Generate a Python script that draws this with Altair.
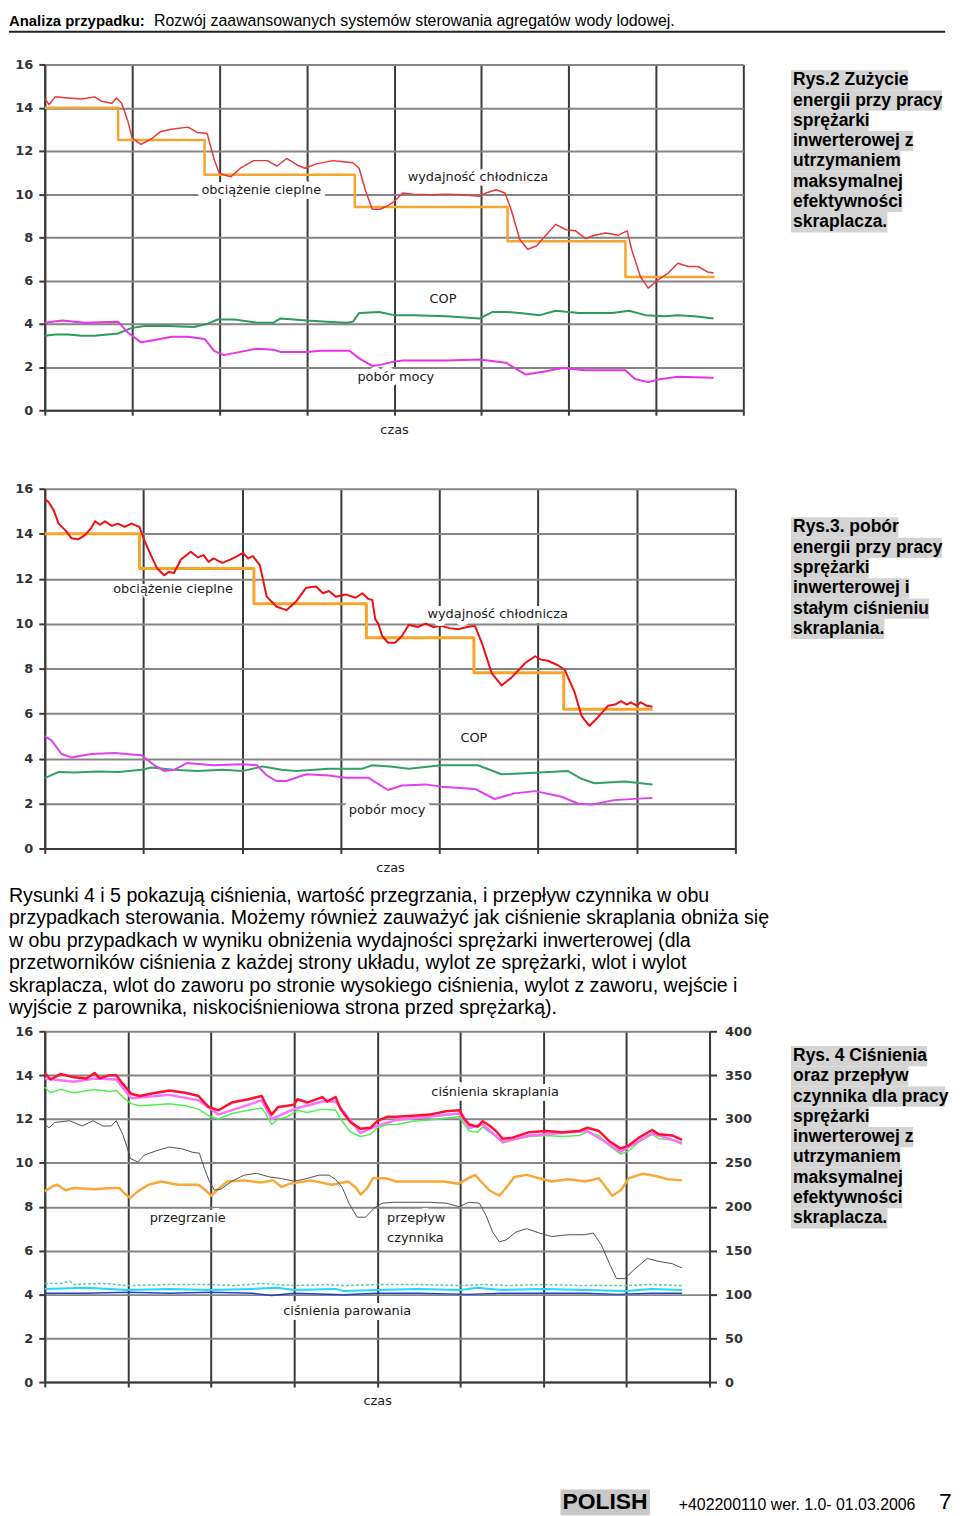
import altair as alt
import pandas as pd

# ---------------- data ----------------
# Rys.2
c1_heat = [(0, 14.0), (0.84, 12.5), (1.83, 10.9), (3.55, 9.4), (5.30, 7.82), (6.65, 6.16), (7.67, 6.16)]
c1_cool = [(0, 14.4), (0.05, 14.15), (0.12, 14.5), (0.27, 14.45), (0.42, 14.4), (0.57, 14.5), (0.65, 14.3),
           (0.77, 14.2), (0.82, 14.45), (0.88, 14.2), (0.95, 13.4), (1.0, 12.6), (1.1, 12.3), (1.22, 12.55),
           (1.33, 12.9), (1.45, 13.0), (1.64, 13.1), (1.75, 12.85), (1.86, 12.8), (1.94, 11.6), (2.0, 10.95),
           (2.13, 10.8), (2.24, 11.2), (2.39, 11.55), (2.55, 11.55), (2.66, 11.3), (2.77, 11.65), (2.89, 11.35),
           (2.98, 11.2), (3.11, 11.4), (3.3, 11.55), (3.42, 11.5), (3.53, 11.45), (3.6, 11.2), (3.67, 10.2),
           (3.75, 9.3), (3.84, 9.3), (3.92, 9.45), (4.0, 9.65), (4.1, 10.05), (4.22, 10.0), (4.41, 9.97),
           (4.6, 10.0), (4.79, 9.97), (4.98, 9.9), (5.05, 10.05), (5.17, 10.2), (5.27, 10.05), (5.34, 9.3),
           (5.44, 7.9), (5.53, 7.45), (5.63, 7.6), (5.74, 8.1), (5.85, 8.6), (5.97, 8.35), (6.08, 8.3),
           (6.19, 7.95), (6.3, 8.1), (6.42, 8.2), (6.57, 8.1), (6.67, 8.3), (6.72, 7.45), (6.82, 6.2),
           (6.91, 5.65), (7.03, 6.05), (7.14, 6.35), (7.25, 6.8), (7.37, 6.65), (7.48, 6.65), (7.59, 6.4),
           (7.66, 6.35)]
c1_cop = [(0, 3.45), (0.12, 3.5), (0.27, 3.5), (0.42, 3.45), (0.57, 3.45), (0.84, 3.55), (0.99, 3.8),
          (1.14, 3.9), (1.41, 3.9), (1.71, 3.85), (1.86, 4.0), (1.98, 4.2), (2.17, 4.2), (2.43, 4.05),
          (2.62, 4.05), (2.7, 4.25), (2.85, 4.2), (3.0, 4.15), (3.23, 4.1), (3.46, 4.05), (3.53, 4.1),
          (3.6, 4.5), (3.83, 4.55), (4.0, 4.4), (4.22, 4.4), (4.6, 4.35), (4.98, 4.25), (5.13, 4.55),
          (5.28, 4.55), (5.44, 4.5), (5.67, 4.4), (5.85, 4.6), (6.12, 4.5), (6.5, 4.5), (6.69, 4.6),
          (6.88, 4.4), (7.1, 4.35), (7.25, 4.4), (7.44, 4.35), (7.66, 4.25)]
c1_power = [(0, 4.05), (0.2, 4.15), (0.46, 4.05), (0.84, 4.1), (0.95, 3.6), (1.1, 3.15), (1.26, 3.25),
            (1.45, 3.4), (1.64, 3.4), (1.83, 3.3), (1.94, 2.75), (2.05, 2.55), (2.24, 2.7), (2.43, 2.85),
            (2.62, 2.8), (2.7, 2.7), (3.0, 2.7), (3.16, 2.75), (3.49, 2.75), (3.6, 2.4), (3.75, 2.05),
            (3.84, 2.1), (4.0, 2.25), (4.1, 2.3), (4.6, 2.3), (4.98, 2.35), (5.28, 2.2), (5.51, 1.65),
            (5.74, 1.8), (5.93, 1.95), (6.19, 1.85), (6.65, 1.85), (6.76, 1.45), (6.91, 1.3), (7.06, 1.45),
            (7.25, 1.55), (7.66, 1.5)]
c1_labels = [("obciążenie cieplne", 2.48, 10.2), ("wydajność chłodnicza", 4.96, 10.8),
             ("COP", 4.56, 5.15), ("pobór mocy", 4.02, 1.56)]

# Rys.3
c2_heat = [(0, 14.0), (0.96, 12.45), (2.12, 10.88), (3.26, 9.37), (4.35, 7.82), (5.26, 6.19), (6.16, 6.19)]
c2_cool = [(0, 15.55), (0.04, 15.4), (0.09, 15.05), (0.14, 14.45), (0.21, 14.15), (0.27, 13.8), (0.34, 13.75),
           (0.41, 13.95), (0.47, 14.25), (0.51, 14.55), (0.56, 14.4), (0.61, 14.55), (0.68, 14.35),
           (0.74, 14.45), (0.81, 14.3), (0.88, 14.45), (0.96, 14.3), (1.01, 13.7), (1.08, 13.0),
           (1.14, 12.45), (1.21, 12.15), (1.26, 12.3), (1.31, 12.25), (1.38, 12.85), (1.48, 13.2),
           (1.55, 12.95), (1.61, 13.05), (1.66, 12.75), (1.71, 12.9), (1.8, 12.7), (1.88, 12.85),
           (1.95, 13.0), (2.01, 13.15), (2.06, 12.9), (2.11, 13.0), (2.18, 12.6), (2.25, 11.2),
           (2.35, 10.75), (2.45, 10.6), (2.55, 11.0), (2.65, 11.6), (2.75, 11.65), (2.82, 11.35),
           (2.88, 11.45), (2.95, 11.2), (3.05, 11.3), (3.15, 11.15), (3.22, 11.35), (3.28, 11.1),
           (3.32, 11.05), (3.35, 10.2), (3.38, 10.0), (3.42, 9.45), (3.48, 9.15), (3.55, 9.15),
           (3.62, 9.45), (3.69, 9.95), (3.78, 9.85), (3.86, 10.0), (3.94, 9.85), (4.02, 9.9), (4.1, 9.8),
           (4.19, 9.75), (4.28, 9.85), (4.36, 9.9), (4.43, 9.15), (4.53, 7.8), (4.63, 7.25), (4.73, 7.6),
           (4.87, 8.25), (4.97, 8.55), (5.03, 8.4), (5.1, 8.35), (5.2, 8.15), (5.27, 7.95), (5.37, 6.95),
           (5.44, 5.9), (5.52, 5.45), (5.61, 5.85), (5.71, 6.35), (5.78, 6.4), (5.84, 6.55), (5.9, 6.4),
           (5.94, 6.5), (6.0, 6.35), (6.04, 6.5), (6.1, 6.35), (6.16, 6.3)]
c2_cop = [(0, 3.13), (0.14, 3.4), (0.3, 3.38), (0.54, 3.42), (0.75, 3.4), (0.98, 3.5), (1.08, 3.6),
          (1.3, 3.5), (1.55, 3.45), (1.8, 3.5), (2.01, 3.45), (2.21, 3.65), (2.4, 3.5), (2.55, 3.45),
          (2.88, 3.55), (3.22, 3.55), (3.32, 3.7), (3.5, 3.65), (3.69, 3.55), (4.02, 3.7), (4.39, 3.7),
          (4.63, 3.3), (4.87, 3.35), (5.3, 3.45), (5.44, 3.1), (5.57, 2.9), (5.88, 2.98), (6.16, 2.85)]
c2_power = [(0, 5.0), (0.07, 4.8), (0.17, 4.2), (0.27, 4.05), (0.47, 4.2), (0.71, 4.25), (0.98, 4.15),
            (1.11, 3.7), (1.21, 3.45), (1.31, 3.5), (1.44, 3.8), (1.71, 3.7), (2.01, 3.75), (2.15, 3.7),
            (2.25, 3.25), (2.35, 3.0), (2.45, 3.0), (2.65, 3.3), (2.88, 3.25), (3.05, 3.15), (3.28, 3.15),
            (3.35, 2.95), (3.48, 2.6), (3.62, 2.8), (3.86, 2.85), (4.02, 2.75), (4.36, 2.65), (4.56, 2.2),
            (4.76, 2.45), (4.97, 2.55), (5.24, 2.3), (5.4, 2.0), (5.54, 1.95), (5.77, 2.15), (6.16, 2.25)]
c2_labels = [("obciążenie cieplne", 1.30, 11.53), ("wydajność chłodnicza", 4.59, 10.43),
             ("COP", 4.35, 4.9), ("pobór mocy", 3.47, 1.72)]

# Rys. 4
c3_cond_red = [(0, 14.1), (0.07, 13.8), (0.19, 14.05), (0.35, 13.9), (0.5, 13.85), (0.6, 14.1), (0.66, 13.85),
               (0.78, 14.0), (0.86, 14.0), (0.94, 13.6), (1.04, 13.15), (1.14, 13.05), (1.34, 13.2),
               (1.5, 13.3), (1.69, 13.2), (1.85, 13.05), (1.97, 12.55), (2.09, 12.4), (2.25, 12.75),
               (2.45, 12.9), (2.61, 13.05), (2.65, 12.75), (2.73, 12.2), (2.81, 12.55), (2.92, 12.6),
               (3.0, 12.65), (3.04, 12.9), (3.16, 12.75), (3.34, 13.0), (3.4, 12.8), (3.5, 13.0),
               (3.56, 12.45), (3.68, 11.85), (3.8, 11.55), (3.92, 11.6), (4.0, 11.9), (4.12, 12.1),
               (4.23, 12.1), (4.43, 12.15), (4.63, 12.2), (4.83, 12.35), (4.99, 12.4), (5.05, 12.0),
               (5.11, 11.75), (5.21, 11.65), (5.27, 11.9), (5.35, 11.7), (5.43, 11.45), (5.51, 11.1),
               (5.63, 11.15), (5.83, 11.4), (6.03, 11.45), (6.23, 11.4), (6.43, 11.45), (6.53, 11.6),
               (6.67, 11.45), (6.79, 11.0), (6.93, 10.65), (7.03, 10.8), (7.15, 11.15), (7.31, 11.5),
               (7.39, 11.3), (7.55, 11.25), (7.67, 11.05)]
c3_cond_pink = [(0, 13.85), (0.35, 13.7), (0.6, 13.85), (0.86, 13.8), (1.04, 12.95), (1.5, 13.1),
                (1.85, 12.85), (2.09, 12.2), (2.61, 12.85), (2.73, 12.0), (3.0, 12.45), (3.34, 12.8),
                (3.5, 12.8), (3.8, 11.35), (4.0, 11.7), (4.23, 11.95), (4.99, 12.25), (5.11, 11.6),
                (5.27, 11.75), (5.51, 10.95), (5.83, 11.25), (6.53, 11.45), (6.79, 10.85), (6.93, 10.5),
                (7.31, 11.35), (7.67, 10.9)]
c3_cond_green = [(0, 13.45), (0.07, 13.2), (0.19, 13.35), (0.35, 13.2), (0.6, 13.35), (0.78, 13.25),
                 (0.86, 13.3), (0.94, 13.0), (1.04, 12.7), (1.14, 12.6), (1.34, 12.65), (1.5, 12.7),
                 (1.69, 12.6), (1.85, 12.45), (1.97, 12.15), (2.09, 12.0), (2.25, 12.25), (2.45, 12.4),
                 (2.61, 12.5), (2.65, 12.3), (2.73, 11.75), (2.81, 12.0), (2.92, 12.1), (3.04, 12.4),
                 (3.16, 12.3), (3.34, 12.45), (3.5, 12.4), (3.56, 12.0), (3.68, 11.4), (3.8, 11.2),
                 (3.92, 11.3), (4.0, 11.6), (4.12, 11.75), (4.23, 11.75), (4.43, 11.9), (4.63, 11.95),
                 (4.83, 12.05), (4.99, 12.1), (5.05, 11.75), (5.11, 11.45), (5.21, 11.4), (5.27, 11.65),
                 (5.35, 11.4), (5.43, 11.25), (5.51, 10.9), (5.63, 11.05), (5.83, 11.2), (6.03, 11.25),
                 (6.23, 11.2), (6.43, 11.25), (6.53, 11.4), (6.67, 11.25), (6.79, 10.8), (6.93, 10.4),
                 (7.03, 10.55), (7.15, 10.95), (7.31, 11.3), (7.39, 11.1), (7.55, 11.05), (7.67, 10.85)]
c3_superheat = [(0, 8.7), (0.08, 8.9), (0.15, 9.0), (0.25, 8.75), (0.35, 8.85), (0.6, 8.8), (0.8, 8.85),
                (0.9, 8.85), (0.96, 8.6), (1.03, 8.4), (1.12, 8.7), (1.25, 9.0), (1.4, 9.15), (1.6, 9.0),
                (1.85, 9.0), (1.95, 8.7), (2.0, 8.5), (2.1, 8.85), (2.2, 9.15), (2.4, 9.2), (2.6, 9.1),
                (2.75, 9.2), (2.85, 8.9), (2.95, 9.05), (3.2, 9.2), (3.45, 9.0), (3.65, 9.15), (3.75, 8.85),
                (3.8, 8.55), (3.88, 8.85), (3.95, 9.3), (4.1, 9.3), (4.23, 9.15), (4.5, 9.15), (4.8, 9.15),
                (4.98, 9.05), (5.1, 9.3), (5.18, 9.45), (5.25, 9.15), (5.35, 8.75), (5.47, 8.5), (5.55, 8.85),
                (5.65, 9.35), (5.8, 9.45), (5.95, 9.3), (6.1, 9.15), (6.3, 9.25), (6.5, 9.15), (6.67, 9.3),
                (6.75, 8.9), (6.83, 8.5), (6.93, 8.75), (7.03, 9.3), (7.2, 9.5), (7.35, 9.4), (7.5, 9.25),
                (7.67, 9.2)]
# flow on the right-hand axis (0-400)
c3_flow = [(0, 294), (0.05, 290), (0.12, 296), (0.3, 298), (0.45, 292), (0.58, 298), (0.7, 292), (0.8, 292),
           (0.86, 298), (0.94, 282), (0.99, 268), (1.03, 255), (1.12, 251), (1.2, 259), (1.35, 264),
           (1.5, 268), (1.65, 266), (1.78, 262), (1.86, 261), (1.92, 244), (1.98, 229), (2.04, 219),
           (2.12, 220), (2.25, 229), (2.4, 236), (2.55, 238), (2.7, 234), (2.85, 232), (3.0, 229),
           (3.15, 232), (3.3, 236), (3.42, 236), (3.5, 231), (3.58, 222), (3.66, 204), (3.76, 188),
           (3.86, 188), (3.96, 198), (4.06, 204), (4.2, 205), (4.43, 205), (4.63, 205), (4.83, 204),
           (4.99, 200), (5.1, 205), (5.23, 204), (5.31, 190), (5.39, 171), (5.47, 160), (5.55, 162),
           (5.67, 171), (5.8, 175), (5.95, 170), (6.1, 166), (6.3, 168), (6.5, 168), (6.6, 170),
           (6.7, 156), (6.8, 134), (6.88, 118), (6.98, 118), (7.1, 129), (7.25, 141), (7.37, 138),
           (7.55, 135), (7.67, 130)]
c3_evap_teal = [(0, 4.5), (0.2, 4.5), (0.3, 4.6), (0.35, 4.45), (0.7, 4.5), (1.0, 4.4), (1.5, 4.45),
                (2.0, 4.45), (2.3, 4.4), (2.6, 4.5), (3.0, 4.4), (3.4, 4.45), (3.6, 4.4), (4.0, 4.45),
                (4.5, 4.45), (5.0, 4.4), (5.3, 4.45), (5.6, 4.4), (6.0, 4.45), (6.5, 4.4), (7.0, 4.4),
                (7.3, 4.45), (7.67, 4.4)]
c3_evap_cyan = [(0, 4.25), (0.5, 4.3), (1.0, 4.2), (1.5, 4.25), (2.0, 4.2), (2.5, 4.25), (2.8, 4.3),
                (3.0, 4.2), (3.5, 4.25), (3.6, 4.15), (4.0, 4.2), (4.5, 4.25), (5.0, 4.2), (5.2, 4.3),
                (5.5, 4.2), (6.0, 4.25), (6.5, 4.2), (7.0, 4.15), (7.3, 4.25), (7.67, 4.2)]
c3_evap_blue = [(0, 4.05), (0.5, 4.05), (1.0, 4.1), (1.5, 4.05), (2.0, 4.1), (2.5, 4.05), (2.73, 3.95),
                (3.0, 4.05), (3.6, 3.98), (4.0, 4.05), (4.5, 4.05), (5.1, 4.0), (5.5, 4.05), (6.0, 4.05),
                (6.5, 4.05), (6.9, 4.0), (7.3, 4.05), (7.67, 4.05)]
c3_labels = [("ciśnienia skraplania", 5.42, 13.24), ("przegrzanie", 1.72, 7.48), ("przepływ", 4.47, 7.48),
             ("czynnika", 4.46, 6.57), ("ciśnienia parowania", 3.64, 3.22)]

# ---------------- texts ----------------
header_bold = "Analiza przypadku:"
header_rest = "Rozwój zaawansowanych systemów sterowania agregatów wody lodowej."
cap1_lines = ["Rys.2 Zużycie", "energii przy pracy", "sprężarki", "inwerterowej z", "utrzymaniem",
              "maksymalnej", "efektywności", "skraplacza."]
cap2_lines = ["Rys.3. pobór", "energii przy pracy", "sprężarki", "inwerterowej i", "stałym ciśnieniu",
              "skraplania."]
cap3_lines = ["Rys. 4 Ciśnienia", "oraz przepływ", "czynnika dla pracy", "sprężarki", "inwerterowej z",
              "utrzymaniem", "maksymalnej", "efektywności", "skraplacza."]
para_lines = ["Rysunki 4 i 5 pokazują ciśnienia, wartość przegrzania, i przepływ czynnika w obu",
              "przypadkach sterowania. Możemy również zauważyć jak ciśnienie skraplania obniża się",
              "w obu przypadkach w wyniku obniżenia wydajności sprężarki inwerterowej (dla",
              "przetworników ciśnienia z każdej strony układu, wylot ze sprężarki, wlot i wylot",
              "skraplacza, wlot do zaworu po stronie wysokiego ciśnienia, wylot z zaworu, wejście i",
              "wyjście z parownika, niskociśnieniowa strona przed sprężarką)."]
footer_lang = "POLISH"
footer_doc = "+402200110 wer. 1.0- 01.03.2006"
footer_page = "7"

# ---------------- layout / style (pixels) ----------------
# right edges (page px) of the grey highlight behind each caption line
cap1_ends = [913, 947, 873, 918, 905, 907, 907, 892]
cap2_ends = [903, 947, 873, 914, 934, 889]
cap3_ends = [932, 913, 950, 873, 918, 905, 907, 907, 892]
# white halo width behind each in-plot label (per chart, same order as the label lists)
c1_halo = [10, 10, 10, 10]
c2_halo = [4, 10, 10, 10]
c3_halo = [10, 10, 10, 10, 10]
OX = 44  # page x of the plot areas' left edge

LAB = "DejaVu Sans"
TXT = "Liberation Sans"
DARK = "#3a3a3a"
HGRID = "#858585"


def xenc(n):
    return alt.X("x:Q", scale=alt.Scale(domain=[0, n], nice=False, zero=False),
                 axis=alt.Axis(values=list(range(n + 1)), labels=False, title="czas", grid=True,
                               gridColor=DARK, gridWidth=2, domainColor=DARK, domainWidth=2,
                               tickColor=DARK, tickWidth=2, tickSize=5, titleFont=LAB, titleFontSize=13,
                               titleFontWeight="normal", titleColor="#222", titlePadding=7))


def yenc(field="y", top=16, step=2, orient="left", grid=True):
    return alt.Y(f"{field}:Q", scale=alt.Scale(domain=[0, top], nice=False, zero=False),
                 axis=alt.Axis(orient=orient, values=list(range(0, top + 1, step)), grid=grid,
                               gridColor=HGRID, gridWidth=2, domainColor=DARK, domainWidth=2,
                               tickColor=DARK, tickWidth=2, tickSize=6 if orient == "left" else 7,
                               labelFont=LAB, labelFontSize=13, labelFontWeight="bold", labelColor="#333",
                               labelPadding=6 if orient == "left" else 8, title=None))


def line(pairs, color, width, X, Y, col="y", interp="linear", dash=None):
    kw = dict(color=color, strokeWidth=width, interpolate=interp, strokeJoin="round")
    if dash:
        kw["strokeDash"] = dash
    return alt.Chart(pd.DataFrame(pairs, columns=["x", col])).mark_line(**kw).encode(x=X, y=Y)


def plot_labels(items, halos, X, Y):
    d = pd.DataFrame(items, columns=["t", "x", "y"])
    d["h"] = halos
    base = alt.Chart(d).encode(x=X, y=Y, text="t:N")
    return [base.mark_text(font=LAB, fontSize=13, color="white", stroke="white", strokeJoin="round").encode(
                strokeWidth=alt.StrokeWidth("h:Q", scale=None, legend=None)),
            base.mark_text(font=LAB, fontSize=13, color="#1a1a1a")]


def ptext(t, x, y, size, bold=False, font=TXT, color="black", baseline="middle"):
    return alt.Chart(pd.DataFrame({"t": [t]})).mark_text(
        font=font, fontSize=size, fontWeight="bold" if bold else "normal", align="left",
        baseline=baseline, color=color).encode(x=alt.value(x), y=alt.value(y), text="t:N")


def prect(x1, x2, y1, y2, color):
    return alt.Chart(pd.DataFrame({"a": [0]})).mark_rect(color=color).encode(
        x=alt.value(x1), x2=alt.value(x2), y=alt.value(y1), y2=alt.value(y2))


def prule(x1, x2, y, color, w):
    return alt.Chart(pd.DataFrame({"a": [0]})).mark_rule(color=color, strokeWidth=w).encode(
        x=alt.value(x1), x2=alt.value(x2), y=alt.value(y))


def caption(lines, ends, cy0, step=20.4, x0=752):
    layers = []
    for i, e in enumerate(ends):
        cy = cy0 + i * step
        layers.append(prect(x0 - 1, e - OX, cy - 10.2, cy + 10.2, "#d4d4d4"))
    for i, t in enumerate(lines):
        layers.append(ptext(t, x0 + 1, cy0 + i * step, 17.6, bold=True))
    return layers


# ---------------- Rys.2 ----------------
X1, Y1 = xenc(8), yenc()
chart1 = alt.layer(
    line(c1_heat, "#f5a631", 2.5, X1, Y1, interp="step-after"),
    line(c1_cool, "#e8383a", 1.5, X1, Y1),
    line(c1_cop, "#2f9a5e", 2, X1, Y1),
    line(c1_power, "#e535e5", 2, X1, Y1),
    *plot_labels(c1_labels, c1_halo, X1, Y1),
    ptext(header_bold, -36, -44, 15, bold=True),
    ptext(header_rest, 110, -44, 16),
    prule(-36, 906, -33, "#222", 2),
    *caption(cap1_lines, cap1_ends, 16),
).properties(width=703, height=348)

# ---------------- Rys.3 ----------------
X2, Y2 = xenc(7), yenc()
chart2 = alt.layer(
    line(c2_heat, "#f7a52a", 3, X2, Y2, interp="step-after"),
    line(c2_cool, "#ee1111", 2, X2, Y2),
    line(c2_cop, "#33a066", 2, X2, Y2),
    line(c2_power, "#e040f0", 2, X2, Y2),
    *plot_labels(c2_labels, c2_halo, X2, Y2),
    *caption(cap2_lines, cap2_ends, 39),
    *[ptext(t, -36, 410 + i * 22.5, 19.7) for i, t in enumerate(para_lines)],
).properties(width=695, height=362)

# ---------------- Rys. 4 ----------------
X3, Y3 = xenc(8), yenc()
Y3r = yenc("f", top=400, step=50, orient="right", grid=False)
left3 = alt.layer(
    line(c3_evap_teal, "#5fc8b0", 1.5, X3, Y3, dash=[3, 2]),
    line(c3_evap_cyan, "#20d8f8", 2, X3, Y3),
    line(c3_evap_blue, "#2244cc", 1.5, X3, Y3),
    line(c3_superheat, "#f8a838", 2.5, X3, Y3),
    line(c3_cond_green, "#50f050", 1.5, X3, Y3),
    line(c3_cond_pink, "#ff70ff", 2.5, X3, Y3),
    line(c3_cond_red, "#ff1030", 2.5, X3, Y3),
    *plot_labels(c3_labels, c3_halo, X3, Y3),
    *caption(cap3_lines, cap3_ends, 25),
    prect(519, 609, 461, 487, "#c8c8c8"),
    ptext(footer_lang, 521, 474, 23, bold=True),
    ptext(footer_doc, 638, 477, 16),
    ptext(footer_page, 900, 474, 23),
)
right3 = line(c3_flow, "#505050", 1, X3, Y3r, col="f")
chart3 = alt.layer(left3, right3).resolve_scale(y="independent").properties(width=669, height=353)


def spacer(h):
    return alt.Chart(pd.DataFrame({"a": [0]})).mark_point(opacity=0).encode(
        x=alt.value(0), y=alt.value(0)).properties(width=10, height=h)


chart = alt.vconcat(chart1, spacer(79), chart2, spacer(184), chart3, spacing=0, bounds="flush").properties(
    padding=0, background="white").configure_view(stroke=None)

chart.save("out.html", embed_options={"renderer": "svg", "actions": False})
